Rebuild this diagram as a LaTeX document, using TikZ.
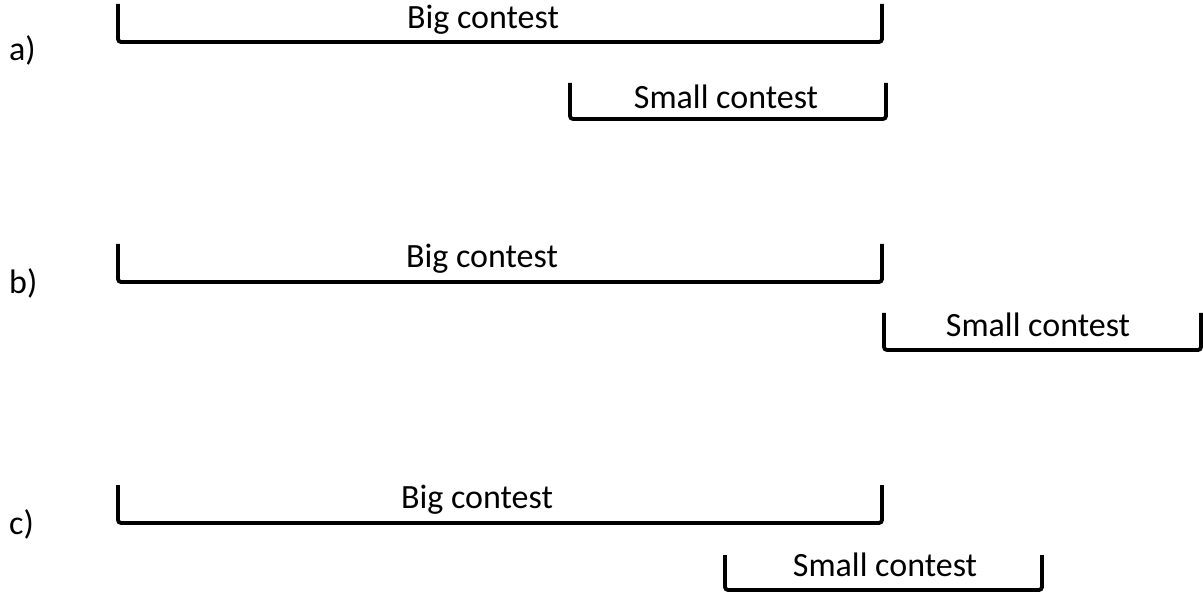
\documentclass[tikz,border=0pt]{standalone}
\usepackage{fontspec}
\setmainfont{Carlito}
\begin{document}
\begin{tikzpicture}[x=1pt,y=-1pt,
  bracket/.style={line width=3.8pt,rounded corners=3pt,line cap=butt,black},
  lbl/.style={inner sep=0pt,anchor=base,font=\fontsize{34}{40}\selectfont},
  tag/.style={inner sep=0pt,anchor=base west,font=\fontsize{34}{40}\selectfont}]
\useasboundingbox (0,0) rectangle (1203,596);
% a)
\node[tag] (la) at (9,61) {a)};
\coordinate (a1) at (118,4);
\coordinate (a2) at (882,4);
\draw[bracket] (a1) -- (118,42) -- (882,42) -- (a2);
\node[lbl] (ta) at (483,29) {Big contest};
\coordinate (as1) at (570,83);
\coordinate (as2) at (886,83);
\draw[bracket] (as1) -- (570,119) -- (886,119) -- (as2);
\node[lbl] (tas) at (726,109) {Small contest};
% b)
\node[tag] (lb) at (9,294) {b)};
\coordinate (b1) at (118,244);
\coordinate (b2) at (882,244);
\draw[bracket] (b1) -- (118,282) -- (882,282) -- (b2);
\node[lbl] (tb) at (482,268) {Big contest};
\coordinate (bs1) at (884,313);
\coordinate (bs2) at (1201,313);
\draw[bracket] (bs1) -- (884,350) -- (1201,350) -- (bs2);
\node[lbl] (tbs) at (1038,336) {Small contest};
% c)
\node[tag] (lc) at (9,534) {c)};
\coordinate (c1) at (118,485);
\coordinate (c2) at (882,485);
\draw[bracket] (c1) -- (118,523) -- (882,523) -- (c2);
\node[lbl] (tc) at (477,508) {Big contest};
\coordinate (cs1) at (725,555);
\coordinate (cs2) at (1042,555);
\draw[bracket] (cs1) -- (725,590) -- (1042,590) -- (cs2);
\node[lbl] (tcs) at (885,576) {Small contest};
\end{tikzpicture}
\end{document}
